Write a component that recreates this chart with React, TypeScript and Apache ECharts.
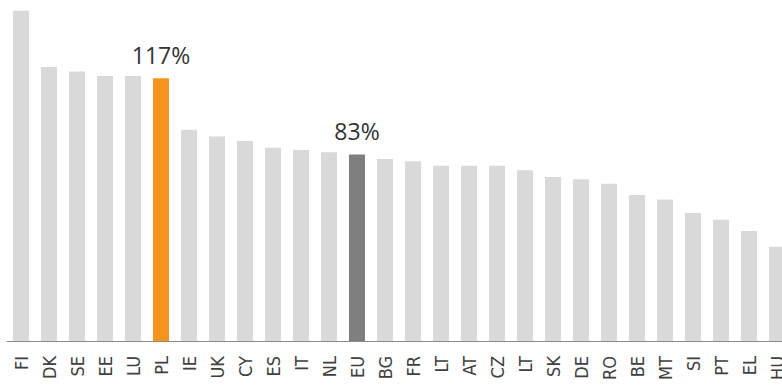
import React, { useEffect, useRef } from "react";
import * as echarts from "echarts";

// Country codes along the category axis (LT appears twice in the source series)
const countries = [
  "FI", "DK", "SE", "EE", "LU", "PL", "IE", "UK", "CY", "ES", "IT", "NL", "EU", "BG",
  "FR", "LT", "AT", "CZ", "LT", "SK", "DE", "RO", "BE", "MT", "SI", "PT", "EL", "HU",
];

// Values in percent
const values = [
  147, 122, 120, 118, 118, 117, 94, 91, 89, 86, 85, 84, 83, 81,
  80, 78, 78, 78, 76, 73, 72, 70, 65, 63, 57, 54, 49, 42,
];

const highlightCountry = "PL";
const averageCountry = "EU";

const BASE_COLOR = "#d9d9d9";
const HIGHLIGHT_COLOR = "#f7941d";
const AVERAGE_COLOR = "#7f7f7f";
const FONT = "'Open Sans', 'Noto Sans', sans-serif";
const AXIS_FONT = "'DejaVu Sans Condensed', 'Open Sans', sans-serif";

export default function App() {
  const ref = useRef<HTMLDivElement>(null);

  useEffect(() => {
    if (!ref.current) return;
    const chart = echarts.init(ref.current, undefined, { renderer: "svg" });

    const data = values.map((v, i) => {
      const c = countries[i];
      const isHighlight = c === highlightCountry;
      const isAverage = c === averageCountry;
      return {
        value: v,
        itemStyle: {
          color: isHighlight ? HIGHLIGHT_COLOR : isAverage ? AVERAGE_COLOR : BASE_COLOR,
        },
        label: {
          show: isHighlight || isAverage,
        },
      };
    });

    chart.setOption({
      animation: false,
      grid: { left: 7, right: 9, top: 4, bottom: 44 },
      xAxis: {
        type: "category",
        data: countries,
        axisTick: { show: false },
        axisLine: { lineStyle: { color: "#8a8a8a", width: 1 } },
        axisLabel: {
          rotate: 90,
          margin: 15,
          interval: 0,
          fontSize: 18,
          color: "#404040",
          fontFamily: AXIS_FONT,
        },
      },
      yAxis: {
        type: "value",
        min: 0,
        max: 150,
        show: false,
        splitLine: { show: false },
      },
      series: [
        {
          type: "bar",
          data,
          barWidth: 16,
          label: {
            position: "top",
            distance: 12,
            formatter: "{c}%",
            fontSize: 23,
            color: "#333333",
            fontFamily: FONT,
          },
        },
      ],
    });

    return () => chart.dispose();
  }, []);

  return (
    <div style={{ position: "fixed", left: 0, top: 0, width: 782, height: 385, overflow: "hidden", background: "#fff" }}>
      <div ref={ref} style={{ width: 800, height: 385 }} />
    </div>
  );
}
